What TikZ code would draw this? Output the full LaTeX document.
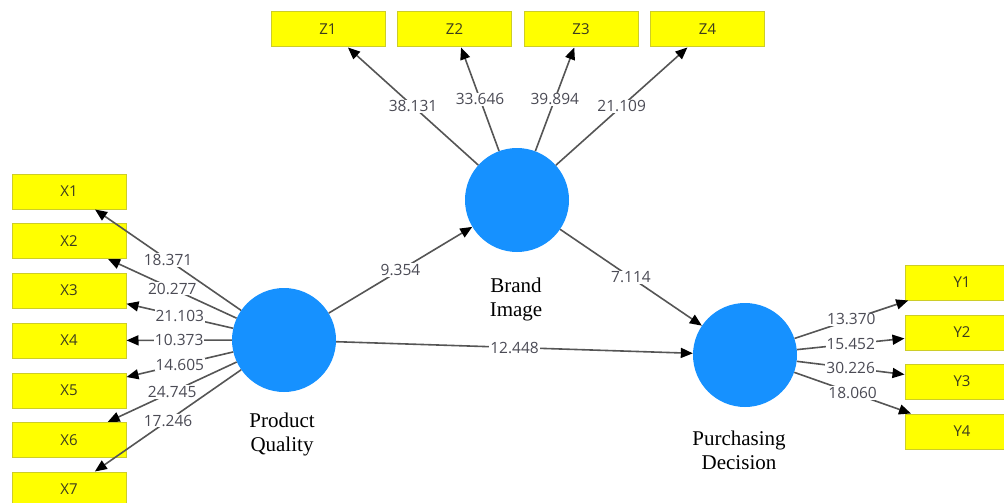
\documentclass[tikz,border=0pt]{standalone}
\usepackage{fontspec}
\setmainfont{Liberation Serif}
\newfontfamily\uifont{Open Sans}
\usetikzlibrary{arrows.meta}
\definecolor{boxfill}{RGB}{255,255,0}
\definecolor{boxline}{RGB}{205,205,40}
\definecolor{boxtext}{RGB}{60,60,30}
\definecolor{lvblue}{RGB}{22,145,255}
\definecolor{edgegray}{RGB}{85,85,85}
\definecolor{labgray}{RGB}{75,75,85}
\tikzset{
  indbox/.style={draw=boxline, line width=1pt, fill=boxfill, minimum width=114pt, minimum height=35pt, inner sep=0pt, font=\uifont\fontsize{15}{18}\selectfont, text=boxtext},
  latent/.style={circle, fill=lvblue, minimum size=104pt, inner sep=0pt},
  lvname/.style={font=\fontsize{21}{24}\selectfont, align=center, anchor=north, inner sep=0pt},
  conn/.style={draw=edgegray, line width=1.6pt, -{Triangle[length=12pt,width=10pt,color=black]}},
  wlab/.style={fill=white, inner sep=1pt, font=\uifont\fontsize{15.5}{18}\selectfont, text=labgray, midway}
}
\begin{document}
\begin{tikzpicture}[x=1pt,y=-1pt]
\useasboundingbox (0,0) rectangle (1004,503);
\begin{scope}
\clip (0,0) rectangle (1004,503);
% indicator boxes
\node[indbox] (x1) at (69,191.5) {X1};
\node[indbox] (x2) at (69,241) {X2};
\node[indbox] (x3) at (69,290.5) {X3};
\node[indbox] (x4) at (69,340.5) {X4};
\node[indbox] (x5) at (69,390.5) {X5};
\node[indbox] (x6) at (69,440) {X6};
\node[indbox] (x7) at (69,489.5) {X7};
\node[indbox] (z1) at (328,29.5) {Z1};
\node[indbox] (z2) at (454.5,29.5) {Z2};
\node[indbox] (z3) at (581,29.5) {Z3};
\node[indbox] (z4) at (707.5,29.5) {Z4};
\node[indbox] (y1) at (962,282.5) {Y1};
\node[indbox] (y2) at (962,332.5) {Y2};
\node[indbox] (y3) at (962,381.5) {Y3};
\node[indbox] (y4) at (962,431.5) {Y4};
% latent variables
\node[latent] (pq) at (284,340) {};
\node[latent] (bi) at (517,200) {};
\node[latent] (pd) at (745,355) {};
\node[lvname] (pqlab) at (282,413) {Product\\Quality};
\node[lvname] (bilab) at (516,278) {Brand\\Image};
\node[lvname] (pdlab) at (739,431) {Purchasing\\Decision};
% outer loadings
\draw[conn] (pq) -- node[wlab] {18.371} (x1);
\draw[conn] (pq) -- node[wlab] {20.277} (x2);
\draw[conn] (pq) -- node[wlab] {21.103} (x3);
\draw[conn] (pq) -- node[wlab] {10.373} (x4);
\draw[conn] (pq) -- node[wlab] {14.605} (x5);
\draw[conn] (pq) -- node[wlab] {24.745} (x6);
\draw[conn] (pq) -- node[wlab] {17.246} (x7);
\draw[conn] (bi) -- node[wlab] {38.131} (z1);
\draw[conn] (bi) -- node[wlab] {33.646} (z2);
\draw[conn] (bi) -- node[wlab] {39.894} (z3);
\draw[conn] (bi) -- node[wlab] {21.109} (z4);
\draw[conn] (pd) -- node[wlab] {13.370} (y1);
\draw[conn] (pd) -- node[wlab] {15.452} (y2);
\draw[conn] (pd) -- node[wlab] {30.226} (y3);
\draw[conn] (pd) -- node[wlab] {18.060} (y4);
% structural paths
\draw[conn] (pq) -- node[wlab] {9.354} (bi);
\draw[conn] (bi) -- node[wlab] {7.114} (pd);
\draw[conn] (pq) -- node[wlab] {12.448} (pd);
\end{scope}
\end{tikzpicture}
\end{document}
